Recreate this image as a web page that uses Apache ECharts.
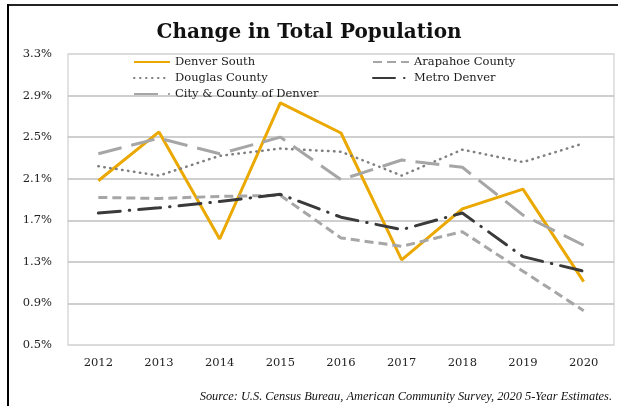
<!DOCTYPE html>
<html>
<head>
<meta charset="utf-8">
<script src="https://cdn.jsdelivr.net/npm/echarts@6/dist/echarts.min.js"></script>
<style>
  html, body { margin: 0; padding: 0; background: #fff; }
  #chart { width: 618px; height: 406px; }
</style>
</head>
<body>
<div id="chart"></div>
<script>
// Annual change in total population (%), 2012-2020
const years = ['2012', '2013', '2014', '2015', '2016', '2017', '2018', '2019', '2020'];
const denverSouth   = [2.08, 2.55, 1.52, 2.83, 2.54, 1.32, 1.81, 2.00, 1.11];
const arapahoe      = [1.92, 1.91, 1.93, 1.94, 1.53, 1.45, 1.59, 1.21, 0.83];
const douglas       = [2.22, 2.13, 2.32, 2.39, 2.36, 2.13, 2.38, 2.26, 2.44];
const metroDenver   = [1.77, 1.82, 1.88, 1.95, 1.73, 1.61, 1.77, 1.35, 1.21];
const cityCounty    = [2.34, 2.49, 2.34, 2.50, 2.09, 2.28, 2.21, 1.75, 1.46];
const yTicks = { min: 0.5, max: 3.3, step: 0.4 };

const serif = '"DejaVu Serif", "Liberation Serif", serif';

function lineSeries(name, data, color, width, dash, cap) {
  return {
    name, type: 'line', data,
    symbol: 'none',
    lineStyle: { color, width, type: dash, cap: cap || 'butt' },
    itemStyle: { color },
    emphasis: { disabled: true }
  };
}

const legendBase = {
  orient: 'vertical', top: 51,
  itemWidth: 36, itemHeight: 10, itemGap: 4,
  itemStyle: { opacity: 0 },
  textStyle: { fontFamily: serif, fontSize: 11.5, color: '#1a1a1a' }
};

const chart = echarts.init(document.getElementById('chart'));
const gridColors = ['#d9d9d9', '#bfbfbf', '#bfbfbf', '#bfbfbf', '#bfbfbf', '#bfbfbf', '#bfbfbf', '#d9d9d9'];

chart.setOption({
  animation: false,
  backgroundColor: '#fff',
  title: {
    text: 'Change in Total Population',
    left: 'center',
    top: 18,
    textStyle: { fontFamily: serif, fontWeight: 'bold', fontSize: 20, color: '#111' }
  },
  legend: [
    Object.assign({}, legendBase, {
      data: ['Denver South', 'Douglas County', 'City & County of Denver'],
      left: 128
    }),
    Object.assign({}, legendBase, {
      data: ['Arapahoe County', 'Metro Denver'],
      left: 367
    })
  ],
  grid: {
    left: 68, right: 4, top: 54, bottom: 61,
    show: true, borderColor: '#d9d9d9', borderWidth: 1.5
  },
  xAxis: {
    type: 'category',
    data: years,
    boundaryGap: true,
    axisLine: { show: false },
    axisTick: { show: false },
    axisLabel: { margin: 12, fontFamily: serif, fontSize: 11.5, color: '#222' }
  },
  yAxis: {
    type: 'value',
    min: yTicks.min, max: yTicks.max, interval: yTicks.step,
    axisLine: { show: false },
    axisTick: { show: false },
    splitLine: { lineStyle: { color: gridColors, width: 1.5 } },
    axisLabel: {
      margin: 16, fontFamily: serif, fontSize: 11.5, color: '#222',
      formatter: v => v.toFixed(1) + '%'
    }
  },
  series: [
    lineSeries('Denver South', denverSouth, '#eaa800', 3, 'solid'),
    lineSeries('Arapahoe County', arapahoe, '#a6a6a6', 3, [9, 5]),
    lineSeries('Douglas County', douglas, '#7f7f7f', 2.5, [0.5, 5.5], 'round'),
    lineSeries('Metro Denver', metroDenver, '#3a3a3a', 3, [22, 9, 0.5, 9], 'round'),
    lineSeries('City & County of Denver', cityCounty, '#a6a6a6', 3, [24, 10])
  ],
  graphic: [
    { type: 'rect', shape: { x: 7, y: 4, width: 611, height: 2 }, style: { fill: '#222' }, silent: true },
    { type: 'rect', shape: { x: 7, y: 4, width: 2, height: 402 }, style: { fill: '#000' }, silent: true },
    {
      type: 'text', right: 6, top: 391,
      style: {
        text: 'Source: U.S. Census Bureau, American Community Survey, 2020 5-Year Estimates.',
        font: 'italic 12.4px "Liberation Serif", serif',
        fill: '#111'
      }
    }
  ]
});
</script>
</body>
</html>
